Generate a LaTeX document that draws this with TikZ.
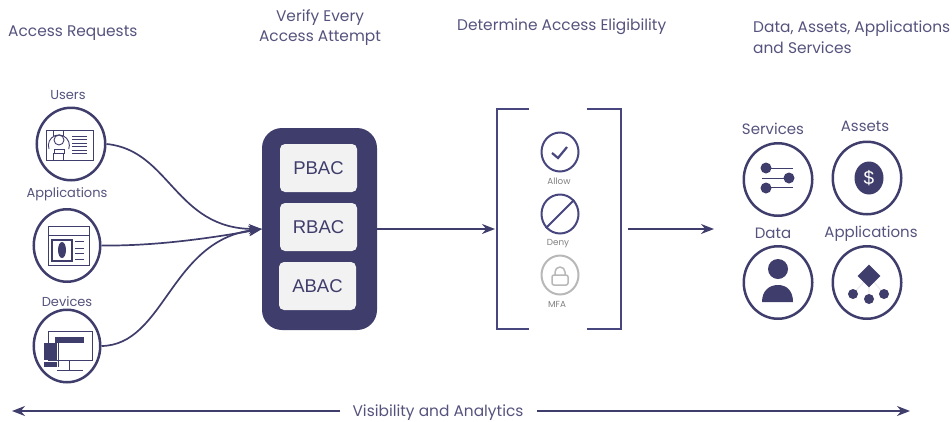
\documentclass[tikz,border=0pt]{standalone}
\usepackage{fontspec}
\setmainfont{Poppins}
\newfontfamily\boxfont{Liberation Sans}
\usetikzlibrary{shapes.geometric,arrows.meta,positioning}
\definecolor{navy}{HTML}{3F3D6B}
\definecolor{softnavy}{HTML}{55537D}
\definecolor{bluish}{HTML}{47467F}
\definecolor{panel}{HTML}{F2F2F2}
\definecolor{lockgrey}{HTML}{B8B8B8}
\definecolor{pale}{HTML}{EDEDED}
\tikzstyle{title} = [text=softnavy, font=\fontsize{15.4}{20.5}\selectfont, inner sep = 0pt, align=left]
\tikzstyle{small} = [text=softnavy, font=\fontsize{13}{15}\selectfont, inner sep = 0pt]
\tikzstyle{label} = [text=softnavy, font=\fontsize{15}{17}\selectfont, inner sep = 0pt]
\tikzstyle{tiny} = [text=gray, font=\fontsize{8.8}{10}\selectfont, inner sep = 0pt]
\tikzstyle{ring} = [ellipse, draw=navy, line width = 2.5pt, fill=white, minimum width = 68.5pt, minimum height = 72.5pt, inner sep = 0pt]
\tikzstyle{choice} = [ellipse, draw=bluish, line width = 2pt, fill=white, minimum width = 37pt, minimum height = 39pt, inner sep = 0pt]
\tikzstyle{policy} = [rectangle, rounded corners = 5pt, fill=panel, text=navy, minimum width = 77pt, minimum height = 48pt, font=\boxfont\fontsize{18.5}{20}\selectfont, inner sep = 0pt]
\tikzstyle{line} = [draw=navy, line width = 1.7pt]
\tikzstyle{flow} = [line, -{Stealth[length=13pt, width=10pt]}]
\tikzstyle{icon} = [draw=navy, line width = 0.9pt]
\tikzstyle{solid} = [fill=navy, draw=none]
\tikzstyle{leaf} = [circle, solid, minimum size = 10pt, inner sep = 0pt]

\begin{document}
\begin{tikzpicture}[x=1pt, y=-1pt]
	\useasboundingbox (0,0) rectangle (952,421);

	% headings
	\node [title, anchor=west] (requests) at (8,33) {Access Requests};
	\node [title, align=center] (verify) at (320,27.5) {Verify Every\\Access Attempt};
	\node [title, anchor=west] (eligibility) at (457,27) {Determine Access Eligibility};
	\node [title, anchor=west] (resources) at (753,37) {Data, Assets, Applications\\and Services};

	% left column
	\node [small] (userstext) at (68,95.5) {Users};
	\node [small] (appstext) at (67,194.5) {Applications};
	\node [small] (devicestext) at (67,302) {Devices};
	\node [ring, minimum width = 68.5pt] (users) at (71,144) {};
	\node [ring, minimum width = 66.5pt] (apps) at (67,245.5) {};
	\node [ring, minimum width = 66.5pt] (devices) at (67,346) {};

	% user card
	\draw [icon] (46,130) rectangle (93,160);
	\draw [icon] (53,130) -- (53,136) (63,130) -- (63,136) (53,153) -- (53,160) (63,153) -- (63,160);
	\draw [icon] (59,140) circle (5);
	\draw [icon] (49,149) arc (160:380:10.5);
	\draw [icon] (54,153) -- (54,149) -- (64,149) -- (64,153) -- cycle;
	\foreach \y in {136,139.5,143,146.5,150,153}
		\draw [icon] (72,\y) -- (87,\y);

	% application window
	\draw [icon] (48,226) rectangle (89,265);
	\draw [icon] (48,235) -- (89,235);
	\draw [icon, line width = 1.2pt] (52,240) rectangle (72,261);
	\fill [solid] (62,250) ellipse (4 and 8);
	\foreach \y in {241,248,253,259}
		\draw [icon] (75,\y) -- (84,\y);

	% device screens
	\draw [icon] (48,331) rectangle (92,360);
	\draw [icon] (69,360) -- (69,370) (57,370) -- (83,370);
	\fill [solid] (55,337) rectangle (84,343);
	\draw [icon] (58,343) -- (58,367);
	\fill [solid] (44,343) rectangle (57,360);
	\fill [solid] (44,362) rectangle (57,367);

	% policy box
	\node [rectangle, rounded corners = 20pt, fill=navy, minimum width = 115pt, minimum height = 202pt, inner sep = 0pt] (engine) at (319.5,229) {};
	\node [policy] (pbac) at (318.5,168) {PBAC};
	\node [policy] (rbac) at (318.5,227) {RBAC};
	\node [policy] (abac) at (317.5,286) {ABAC};

	\path [flow] (users.east) .. controls (170,150) and (175,229) .. (engine.west);
	\path [flow] (apps.east) .. controls (150,246) and (200,240) .. (engine.west);
	\path [flow] (devices.east) .. controls (165,345) and (170,240) .. (engine.west);

	% bracket
	\coordinate (bracketin) at (495,229);
	\coordinate (bracketout) at (628,229);
	\coordinate (target) at (714,229);
	\path [flow] (engine.east) -- (bracketin);
	\path [flow] (bracketout) -- (target);
	\draw [line, draw=bluish] (529,109) -- (497,109) -- (497,329) -- (529,329);
	\draw [line, draw=bluish] (587,109) -- (621,109) -- (621,329) -- (587,329);

	\node [choice] (allow) at (560,152) {};
	\node [choice] (deny) at (560,214) {};
	\node [choice, draw=lockgrey] (mfa) at (560,275) {};
	\node [tiny] (allowtext) at (559,181.5) {Allow};
	\node [tiny] (denytext) at (558,243.5) {Deny};
	\node [tiny] (mfatext) at (557,304.5) {MFA};
	\draw [line, draw=bluish, line width = 2.2pt] (552,153) -- (558,158) -- (567,147);
	\path [line, draw=bluish, line width = 2pt] (deny.225) -- (deny.45);
	\draw [draw=lockgrey, line width = 1.5pt, rounded corners = 2pt] (552,275) rectangle (568,285);
	\draw [draw=lockgrey, line width = 1.5pt] (555,275) -- (555,272) arc (180:360:5) -- (565,275);

	% right block
	\node [label] (servicestext) at (773,128.5) {Services};
	\node [label] (assetstext) at (865,126) {Assets};
	\node [label] (datatext) at (773,233) {Data};
	\node [label] (appliedtext) at (871,233.5) {Applications};
	\node [ring] (services) at (778,179.5) {};
	\node [ring] (assets) at (867,178) {};
	\node [ring] (data) at (778,282.5) {};
	\node [ring] (applied) at (867,282.5) {};

	% services dials
	\draw [icon] (766,168.5) -- (793,168.5) (762,178) -- (789,178) (766,187.5) -- (793,187.5);
	\fill [solid] (766,168) circle (5.5) (789,178) circle (5.5) (766,188) circle (5.5);

	% coin
	\node [ellipse, solid, minimum width = 29pt, minimum height = 33pt, inner sep = 0pt, text=white, font=\boxfont\fontsize{19}{20}\selectfont] (coin) at (869,178) {\$};

	% person
	\fill [solid] (778,269) circle (10);
	\fill [solid] (762,302) -- (793,302) .. controls (793,291) and (787,285) .. (778,285) .. controls (769,285) and (762,291) .. (762,302) -- cycle;

	% tree
	\draw [draw=pale, line width = 1.2pt] (869,276) -- (853,294) (869,276) -- (869,299) (869,276) -- (884,294);
	\node [diamond, solid, minimum width = 23pt, minimum height = 23pt, inner sep = 0pt] (root) at (869,276) {};
	\node [leaf] (leafa) at (853,294) {};
	\node [leaf] (leafb) at (869,299) {};
	\node [leaf] (leafc) at (884,294) {};

	% bottom band
	\node [title] (visibility) at (438,413) {Visibility and Analytics};
	\coordinate (bandleft) at (12,411);
	\coordinate (bandright) at (910,411);
	\coordinate (bandstart) at (340,411);
	\coordinate (bandend) at (537,411);
	\path [flow] (bandstart) -- (bandleft);
	\path [flow] (bandend) -- (bandright);
\end{tikzpicture}
\end{document}
